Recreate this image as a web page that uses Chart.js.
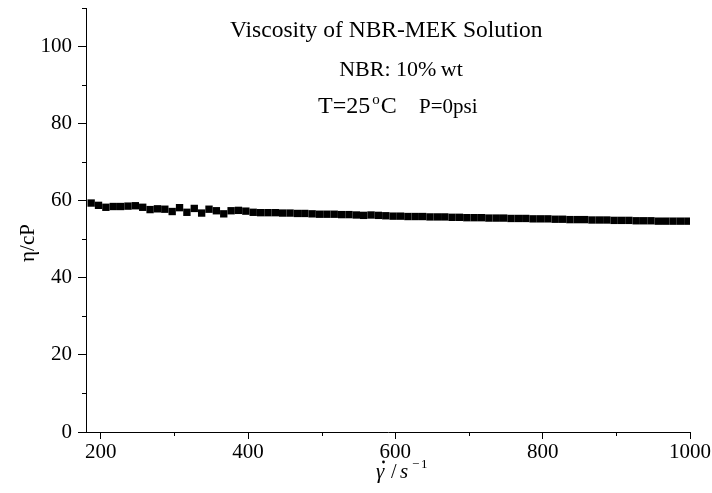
<!DOCTYPE html>
<html><head><meta charset="utf-8">
<script src="https://cdn.jsdelivr.net/npm/chart.js@4/dist/chart.umd.min.js"></script>
<style>html,body{margin:0;padding:0;background:#fff}</style>
</head><body>
<canvas id="c" width="712" height="493"></canvas>
<script>
const shearRate = [187,197,207,217,227,237,247,257,267,277,287,297,307,317,327,337,347,357,367,377,387,397,
  407,417,427,437,447,457,467,477,487,497,507,517,527,537,547,557,567,577,587,597,
  607,617,627,637,647,657,667,677,687,697,707,717,727,737,747,757,767,777,787,797,
  807,817,827,837,847,857,867,877,887,897,907,917,927,937,947,957,967,977,987,997];
const viscosity = [59.4,58.8,58.3,58.5,58.5,58.6,58.7,58.3,57.7,57.9,57.8,57.2,58.2,57.0,58.0,56.8,57.8,57.4,56.6,57.4,57.5,57.3,
  57.0,56.9,56.9,56.9,56.8,56.8,56.7,56.7,56.6,56.5,56.5,56.5,56.4,56.4,56.3,56.2,56.3,56.2,56.1,56.0,
  56.0,55.9,55.9,55.9,55.8,55.8,55.8,55.7,55.7,55.6,55.6,55.6,55.5,55.5,55.5,55.4,55.4,55.4,55.3,55.3,
  55.3,55.2,55.2,55.1,55.1,55.1,55.0,55.0,55.0,54.9,54.9,54.9,54.8,54.8,54.8,54.7,54.7,54.7,54.7,54.7];
const xMajorTicks = [200,400,600,800,1000];
const xMinorTicks = [300,500,700,900];
const yMajorTicks = [0,20,40,60,80,100];
const yMinorTicks = [10,30,50,70,90,110];
const noteTitle = 'Viscosity of NBR-MEK Solution';
const noteConc = 'NBR: 10%\u2009wt';
const noteTemp = ['T=25', 'o', 'C'];
const notePress = 'P=0psi';
const yTitle = 'η/cP';
const xTitle = ['γ', '/', 's', '\u2212', '1'];

const FONT = '"Liberation Serif", "Times New Roman", serif';

const extras = {
  id: 'extras',
  afterDraw(chart) {
    const ctx = chart.ctx, a = chart.chartArea;
    const xs = chart.scales.x, ys = chart.scales.y;
    ctx.save();
    ctx.strokeStyle = '#000'; ctx.lineWidth = 1;
    ctx.beginPath();
    xMinorTicks.forEach(v => { const p = Math.round(xs.getPixelForValue(v)) + 0.5; ctx.moveTo(p, a.bottom); ctx.lineTo(p, a.bottom + 4); });
    yMinorTicks.forEach(v => { const p = Math.round(ys.getPixelForValue(v)) + 0.5; ctx.moveTo(a.left - 4, p); ctx.lineTo(a.left, p); });
    ctx.stroke();
    ctx.fillStyle = '#000';
    ctx.textBaseline = 'alphabetic';
    ctx.textAlign = 'left';
    // annotations
    ctx.font = '23.5px ' + FONT;
    ctx.fillText(noteTitle, 230, 37);
    ctx.font = '22px ' + FONT;
    ctx.textAlign = 'center';
    ctx.fillText(noteConc, 401, 76);
    ctx.textAlign = 'left';
    let x = 318;
    ctx.font = '24px ' + FONT;
    ctx.fillText(noteTemp[0], x, 113); x += ctx.measureText(noteTemp[0]).width + 2;
    ctx.font = '15px ' + FONT; ctx.fillText(noteTemp[1], x, 104); x += ctx.measureText(noteTemp[1]).width + 1;
    ctx.font = '24px ' + FONT; ctx.fillText(noteTemp[2], x, 113);
    ctx.font = '21px ' + FONT; ctx.fillText(notePress, 419, 113);
    // y title
    ctx.save();
    ctx.translate(34, 243); ctx.rotate(-Math.PI / 2);
    ctx.font = '21px ' + FONT; ctx.textAlign = 'center';
    ctx.fillText(yTitle, 0, 0);
    ctx.restore();
    // x title
    ctx.font = 'italic 21px ' + FONT; ctx.fillText(xTitle[0], 376, 478);
    ctx.beginPath(); ctx.arc(383.5, 462, 1.4, 0, Math.PI * 2); ctx.fill();
    ctx.font = '20px ' + FONT; ctx.fillText(xTitle[1], 391, 478);
    ctx.font = 'italic 21px ' + FONT; ctx.fillText(xTitle[2], 400, 478);
    ctx.font = '13px ' + FONT; ctx.fillText(xTitle[3], 412, 468);
    ctx.fillText(xTitle[4], 421, 468);
    ctx.restore();
  }
};

new Chart(document.getElementById('c'), {
  type: 'scatter',
  data: {
    datasets: [{
      data: shearRate.map((v, i) => ({ x: v, y: viscosity[i] })),
      pointStyle: 'rect',
      pointRadius: 5.2,
      backgroundColor: '#000',
      borderColor: '#000',
      borderWidth: 0,
      showLine: false
    }]
  },
  options: {
    responsive: false,
    devicePixelRatio: 1,
    animation: false,
    layout: { padding: { left: 0, top: 8, right: 22, bottom: 0 } },
    plugins: { legend: { display: false }, tooltip: { enabled: false }, title: { display: false } },
    scales: {
      x: {
        type: 'linear', min: 180, max: 1000,
        afterBuildTicks: s => { s.ticks = xMajorTicks.map(v => ({ value: v })); },
        afterFit: s => { s.height = 61; s.paddingLeft = 0; s.paddingRight = 0; },
        grid: { display: true, drawOnChartArea: false, drawTicks: true, tickLength: 7, color: '#000', tickColor: '#000', tickWidth: 1 },
        border: { display: true, color: '#000', width: 1 },
        ticks: { color: '#000', font: { family: FONT, size: 21 }, padding: 1, maxRotation: 0, autoSkip: false, callback: v => String(v) }
      },
      y: {
        type: 'linear', min: 0, max: 110,
        afterBuildTicks: s => { s.ticks = yMajorTicks.map(v => ({ value: v })); },
        afterFit: s => { s.width = 86; s.paddingTop = 0; s.paddingBottom = 0; },
        grid: { display: true, drawOnChartArea: false, drawTicks: true, tickLength: 8, color: '#000', tickColor: '#000', tickWidth: 1 },
        border: { display: true, color: '#000', width: 1 },
        ticks: { color: '#000', font: { family: FONT, size: 21 }, padding: 6, autoSkip: false, callback: v => String(v) }
      }
    }
  },
  plugins: [extras]
});
</script>
</body></html>
